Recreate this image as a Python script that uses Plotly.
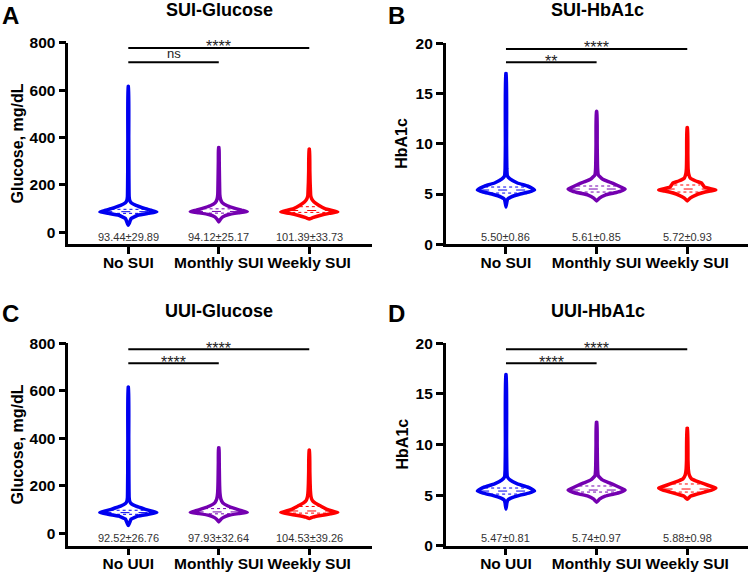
import numpy as np
import plotly.graph_objects as go

# ---------------- data ----------------
CATS_SUI = ["No SUI", "Monthly SUI", "Weekly SUI"]
CATS_UUI = ["No UUI", "Monthly SUI", "Weekly SUI"]
COLORS = ["#0000F0", "#7400B0", "#FF0000"]

PANEL_TITLES = ["SUI-Glucose", "SUI-HbA1c", "UUI-Glucose", "UUI-HbA1c"]
PANEL_LETTERS = ["A", "B", "C", "D"]
Y_TITLES = ["Glucose, mg/dL", "HbA1c", "Glucose, mg/dL", "HbA1c"]

# mean ± SD labels
A_STATS = ["93.44±29.89", "94.12±25.17", "101.39±33.73"]
B_STATS = ["5.50±0.86", "5.61±0.85", "5.72±0.93"]
C_STATS = ["92.52±26.76", "97.93±32.64", "104.53±39.26"]
D_STATS = ["5.47±0.81", "5.74±0.97", "5.88±0.98"]

# violin density profiles: value levels and relative half-widths
A_Y = [[30, 37, 50, 58, 72, 80, 86, 93, 100, 114, 125, 135, 150, 250, 400, 615],
       [44, 55, 65, 75, 82, 87, 93, 100, 112, 125, 140, 160, 220, 300, 358],
       [56, 62, 72, 80, 86, 92, 100, 114, 128, 140, 155, 180, 210, 260, 350]]
A_W = [[0.0, 0.03, 0.07, 0.1, 0.33, 0.7, 1.0, 0.8, 0.6, 0.27, 0.1, 0.05, 0.03, 0.02, 0.015, 0.01],
       [0.0, 0.06, 0.14, 0.35, 0.7, 1.0, 0.8, 0.6, 0.3, 0.12, 0.06, 0.035, 0.025, 0.015, 0.01],
       [0.0, 0.12, 0.4, 0.7, 1.0, 0.8, 0.55, 0.33, 0.17, 0.09, 0.05, 0.04, 0.03, 0.02, 0.01]]

B_Y = [[3.7, 4.2, 4.5, 4.7, 5.0, 5.2, 5.4, 5.6, 5.8, 6.1, 6.5, 6.8, 7.5, 10, 17],
       [4.3, 4.6, 4.9, 5.1, 5.3, 5.5, 5.7, 5.9, 6.2, 6.5, 6.9, 7.5, 10, 13.2],
       [4.3, 4.6, 4.9, 5.1, 5.3, 5.4, 5.5, 5.7, 5.9, 6.1, 6.3, 6.6, 7.0, 7.5, 9, 11.6]]
B_W = [[0.0, 0.03, 0.06, 0.17, 0.5, 0.8, 1.0, 0.9, 0.75, 0.4, 0.14, 0.05, 0.03, 0.02, 0.012],
       [0.0, 0.1, 0.3, 0.6, 0.85, 1.0, 0.85, 0.7, 0.45, 0.2, 0.06, 0.035, 0.02, 0.012],
       [0.0, 0.1, 0.3, 0.5, 0.8, 1.0, 0.85, 0.6, 0.55, 0.5, 0.3, 0.1, 0.05, 0.03, 0.02, 0.012]]

C_Y = [[33, 40, 52, 60, 72, 80, 87, 94, 101, 114, 125, 135, 150, 250, 400, 615],
       [48, 57, 66, 76, 83, 88, 95, 103, 115, 128, 145, 170, 220, 300, 360],
       [62, 68, 75, 82, 88, 94, 102, 115, 128, 140, 155, 180, 210, 260, 350]]
C_W = [[0.0, 0.03, 0.07, 0.1, 0.33, 0.7, 1.0, 0.8, 0.6, 0.27, 0.1, 0.05, 0.03, 0.02, 0.015, 0.01],
       [0.0, 0.06, 0.15, 0.35, 0.7, 1.0, 0.8, 0.6, 0.32, 0.14, 0.07, 0.04, 0.025, 0.015, 0.01],
       [0.0, 0.12, 0.4, 0.75, 1.0, 0.8, 0.6, 0.4, 0.2, 0.1, 0.06, 0.04, 0.03, 0.02, 0.01]]

D_Y = [[3.6, 4.2, 4.5, 4.7, 5.0, 5.2, 5.4, 5.6, 5.8, 6.1, 6.5, 6.8, 7.5, 10, 16.9],
       [4.3, 4.6, 4.9, 5.1, 5.3, 5.5, 5.7, 5.9, 6.2, 6.5, 6.9, 7.5, 10, 12.2],
       [4.6, 4.9, 5.1, 5.3, 5.5, 5.7, 5.9, 6.1, 6.3, 6.6, 7.0, 7.5, 8.5, 11.6]]
D_W = [[0.0, 0.03, 0.06, 0.17, 0.5, 0.8, 1.0, 0.9, 0.75, 0.4, 0.14, 0.05, 0.03, 0.02, 0.012],
       [0.0, 0.1, 0.3, 0.6, 0.85, 1.0, 0.85, 0.7, 0.45, 0.2, 0.06, 0.035, 0.02, 0.012],
       [0.0, 0.12, 0.35, 0.6, 0.85, 1.0, 0.8, 0.6, 0.4, 0.15, 0.07, 0.04, 0.025, 0.012]]

# quartiles (Q1, median, Q3)
A_Q = [[80, 87, 97], [81, 88, 99], [84, 92, 108]]
B_Q = [[5.1, 5.4, 5.7], [5.2, 5.5, 5.8], [5.2, 5.5, 5.9]]
C_Q = [[80, 87, 97], [82, 90, 104], [85, 94, 113]]
D_Q = [[5.1, 5.4, 5.7], [5.3, 5.5, 5.9], [5.3, 5.6, 6.1]]

# significance brackets: (from, to, level, label)
A_SIG = [(0, 2, 778, "****"), (0, 1, 718, "ns")]
B_SIG = [(0, 2, 19.44, "****"), (0, 1, 18.11, "**")]
C_SIG = [(0, 2, 775, "****"), (0, 1, 716, "****")]
D_SIG = [(0, 2, 19.41, "****"), (0, 1, 18.02, "****")]

# ---------------- layout helpers ----------------
W, H = 750, 574
FONT = "Arial, Liberation Sans, sans-serif"
MAXW = 0.315

def fx(px):
    return px / W

def fy(py):
    return 1 - py / H

panels = [
    dict(cats=CATS_SUI, ys=A_Y, ws=A_W, q=A_Q, sig=A_SIG, stats=A_STATS,
         xdom=(68.3, 371.7), ydom=(244.3, 42.7), yrange=[-50.6, 800], xrange=[-0.663, 2.69],
         tickvals=[0, 200, 400, 600, 800], statsy=-19, cx=219, ty=10, lx=10, ly=15, ytx=17),
    dict(cats=CATS_SUI, ys=B_Y, ws=B_W, q=B_Q, sig=B_SIG, stats=B_STATS,
         xdom=(445.7, 747.7), ydom=(244.3, 43.3), yrange=[0, 20], xrange=[-0.665, 2.667],
         tickvals=[0, 5, 10, 15, 20], statsy=0.73, cx=597.5, ty=10, lx=396.7, ly=15, ytx=402),
    dict(cats=CATS_UUI, ys=C_Y, ws=C_W, q=C_Q, sig=C_SIG, stats=C_STATS,
         xdom=(68.3, 371.7), ydom=(545.7, 343.3), yrange=[-52.2, 800], xrange=[-0.663, 2.69],
         tickvals=[0, 200, 400, 600, 800], statsy=-17.7, cx=219, ty=311, lx=10, ly=313, ytx=17),
    dict(cats=CATS_UUI, ys=D_Y, ws=D_W, q=D_Q, sig=D_SIG, stats=D_STATS,
         xdom=(445.7, 747.7), ydom=(545.7, 343.3), yrange=[0, 20], xrange=[-0.665, 2.667],
         tickvals=[0, 5, 10, 15, 20], statsy=0.81, cx=597.5, ty=311, lx=396.7, ly=313, ytx=402),
]

fig = go.Figure()
annotations = []
layout_axes = {}

for k, p in enumerate(panels):
    n = "" if k == 0 else str(k + 1)
    xa, ya = "x" + n, "y" + n
    for i in range(3):
        ys = np.array(p["ys"][i], dtype=float)
        ws = np.array(p["ws"][i], dtype=float) * MAXW
        xs = np.concatenate([i + ws, (i - ws)[::-1]])
        yy = np.concatenate([ys, ys[::-1]])
        fig.add_trace(go.Scatter(
            x=xs, y=yy, mode="lines", fill="toself", fillcolor="white",
            line=dict(color=COLORS[i], width=3.5, shape="spline", smoothing=0.3),
            xaxis=xa, yaxis=ya, showlegend=False, hoverinfo="skip"))
        # quartile lines
        for j, qv in enumerate(p["q"][i]):
            hw = np.interp(qv, ys, ws) - 0.03
            if hw <= 0:
                continue
            fig.add_trace(go.Scatter(
                x=[i - hw, i + hw], y=[qv, qv], mode="lines",
                line=dict(color=COLORS[i], width=1, dash="dot" if j != 1 else "dash"),
                xaxis=xa, yaxis=ya, showlegend=False, hoverinfo="skip"))
    # significance bars
    for (a, b, lvl, lab) in p["sig"]:
        fig.add_trace(go.Scatter(
            x=[a, b], y=[lvl, lvl], mode="lines", line=dict(color="black", width=2),
            xaxis=xa, yaxis=ya, showlegend=False, hoverinfo="skip"))
        if lab == "ns":
            annotations.append(dict(x=(a + b) / 2, y=lvl, xref=xa, yref=ya, text=lab,
                                    showarrow=False, yanchor="bottom", yshift=-1,
                                    font=dict(family=FONT, size=13, color="#222")))
        else:
            annotations.append(dict(x=(a + b) / 2, y=lvl, xref=xa, yref=ya, text=lab,
                                    showarrow=False, yanchor="middle", yshift=1,
                                    font=dict(family=FONT, size=16, color="#222")))
    # mean ± SD text
    for i in range(3):
        annotations.append(dict(x=i, y=p["statsy"], xref=xa, yref=ya, text=p["stats"][i],
                                showarrow=False, yanchor="middle",
                                font=dict(family=FONT, size=11, color="#333")))
    # titles / letters / y titles
    annotations.append(dict(x=fx(p["cx"]), y=fy(p["ty"]), xref="paper", yref="paper",
                            text="<b>%s</b>" % PANEL_TITLES[k], showarrow=False,
                            xanchor="center", yanchor="middle",
                            font=dict(family=FONT, size=18, color="black")))
    annotations.append(dict(x=fx(p["lx"]), y=fy(p["ly"]), xref="paper", yref="paper",
                            text="<b>%s</b>" % PANEL_LETTERS[k], showarrow=False,
                            xanchor="center", yanchor="middle",
                            font=dict(family=FONT, size=24, color="black")))
    ymid = (p["ydom"][0] + p["ydom"][1]) / 2
    annotations.append(dict(x=fx(p["ytx"]), y=fy(ymid), xref="paper", yref="paper",
                            text="<b>%s</b>" % Y_TITLES[k], showarrow=False, textangle=-90,
                            xanchor="center", yanchor="middle",
                            font=dict(family=FONT, size=16, color="black")))

    layout_axes["xaxis" + n] = dict(
        domain=[fx(p["xdom"][0]), fx(p["xdom"][1])], range=p["xrange"], anchor=ya,
        tickmode="array", tickvals=[0, 1, 2], ticktext=["<b>%s</b>" % c for c in p["cats"]],
        showline=True, linecolor="black", linewidth=2.5, ticks="outside", ticklen=7,
        tickwidth=2.5, tickcolor="black", showgrid=False, zeroline=False, automargin=False,
        ticklabelstandoff=-5,
        tickfont=dict(family=FONT, size=15.5, color="black"), fixedrange=True)
    layout_axes["yaxis" + n] = dict(
        domain=[fy(p["ydom"][0]), fy(p["ydom"][1])], range=p["yrange"], anchor=xa,
        tickmode="array", tickvals=p["tickvals"],
        ticktext=["<b>%g</b>" % v for v in p["tickvals"]],
        showline=True, linecolor="black", linewidth=2.5, ticks="outside", ticklen=7,
        tickwidth=2.5, tickcolor="black", showgrid=False, zeroline=False, automargin=False,
        tickfont=dict(family=FONT, size=15.5, color="black"), fixedrange=True)

fig.update_layout(
    template="none",
    width=W, height=H, margin=dict(l=0, r=0, t=0, b=0, pad=0, autoexpand=False),
    plot_bgcolor="white", paper_bgcolor="white",
    annotations=annotations, showlegend=False, **layout_axes)

fig.write_html("out.html", config={"displayModeBar": False},
               post_script="document.body.style.margin='0px';document.body.style.overflow='hidden';")
